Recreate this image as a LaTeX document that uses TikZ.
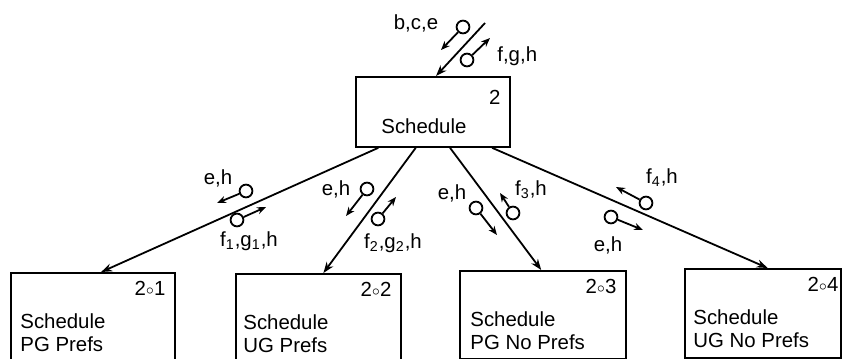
\documentclass[tikz,border=0pt]{standalone}
\usepackage{fontspec}
\setmainfont{Liberation Sans}
\usepackage{tikz}
\usetikzlibrary{arrows.meta,positioning,calc}
\newcommand{\sub}{\raisebox{0.7pt}{$\scriptstyle\circ$}}

\begin{document}
\begin{tikzpicture}[
  x=0.5pt, y=-0.5pt,
  every node/.style={font=\fontsize{10.2}{11.5}\selectfont},
  procbox/.style={rectangle, draw, line width=0.9pt, inner sep=0pt,
    anchor=north west, minimum height=44pt},
  boxtext/.style={inner sep=0pt, align=left, anchor=north west},
  boxnum/.style={inner sep=0pt, anchor=north east},
  flowdot/.style={circle, draw, line width=0.9pt, inner sep=0pt,
    minimum size=6.4pt},
  flowarrow/.style={-{Stealth[length=4.5pt, width=3.6pt]}, line width=0.9pt},
  link/.style={-{Stealth[length=5.5pt, width=4pt]}, line width=0.9pt},
  flowlabel/.style={inner sep=0pt}
]
  \useasboundingbox (0,0) rectangle (842,359);

  % Parent process
  \node[procbox, minimum width=77pt, minimum height=35pt] (sched) at (355,76) {};
  \node[boxnum] (schednum) at ($(sched.north east)+(-10,14)$) {2};
  \node[boxtext] (schedtxt) at ($(sched.north west)+(26,42)$) {Schedule};

  % Child processes (the first two run off the page)
  \node[procbox, minimum width=82pt, minimum height=50pt] (pgp) at (10,272) {};
  \node[procbox, minimum width=82.5pt, minimum height=50pt] (ugp) at (235,273) {};
  \node[procbox, minimum width=83pt] (pgn) at (459,270) {};
  \node[procbox, minimum width=78pt, minimum height=44.5pt] (ugn) at (684,268) {};

  \node[boxnum] (pgpnum) at ($(pgp.north east)+(-10,9)$) {2\sub1};
  \node[boxnum] (ugpnum) at ($(ugp.north east)+(-10,9)$) {2\sub2};
  \node[boxnum] (pgnnum) at ($(pgn.north east)+(-10,9)$) {2\sub3};
  \node[boxnum] (ugnnum) at ($(ugn.north east)+(-3,9)$) {2\sub4};

  \node[boxtext] (pgptxt) at ($(pgp.north west)+(10,41)$) {Schedule\\PG Prefs};
  \node[boxtext] (ugptxt) at ($(ugp.north west)+(8,41)$) {Schedule\\UG Prefs};
  \node[boxtext] (pgntxt) at ($(pgn.north west)+(11,41)$) {Schedule\\PG No Prefs};
  \node[boxtext] (ugntxt) at ($(ugn.north west)+(9,41)$) {Schedule\\UG No Prefs};

  % Connectors
  \coordinate (src) at (485,23);
  \draw[link] (src) -- ($(sched.north west)!0.52!(sched.north east)$);
  \draw[link] ($(sched.south west)!0.15!(sched.south east)$) -- ($(pgp.north west)!0.55!(pgp.north east)$);
  \draw[link] ($(sched.south west)!0.39!(sched.south east)$) -- ($(ugp.north west)!0.53!(ugp.north east)$);
  \draw[link] ($(sched.south west)!0.61!(sched.south east)$) -- ($(pgn.north west)!0.49!(pgn.north east)$);
  \draw[link] ($(sched.south west)!0.88!(sched.south east)$) -- ($(ugn.north west)!0.53!(ugn.north east)$);

  % Data couples
  \foreach \cx/\cy/\tx/\ty [count=\i] in {
      463/27/441/50, 467/60/490/38,
      246/191/217/203, 237/220/266/207,
      367/189/346/216, 378/219/396/197,
      476/208/497/235, 513/213/500/193,
      646/203/616/187, 611/217/643/230} {
    \node[flowdot] (dot\i) at (\cx,\cy) {};
    \coordinate (tip\i) at (\tx,\ty);
    \draw[flowarrow] (dot\i) -- (tip\i);
  }

  \node[flowlabel] (lbce) at (416,23) {b,c,e};
  \node[flowlabel, anchor=west] (lfgh) at (497,56) {f,g,h};
  \node[flowlabel] (leh1) at (218,178) {e,h};
  \node[flowlabel] (lfg1) at (249,241) {f\textsubscript{1},g\textsubscript{1},h};
  \node[flowlabel] (leh2) at (336,189) {e,h};
  \node[flowlabel] (lfg2) at (393,243) {f\textsubscript{2},g\textsubscript{2},h};
  \node[flowlabel] (leh3) at (452,193) {e,h};
  \node[flowlabel] (lf3) at (531,190) {f\textsubscript{3},h};
  \node[flowlabel] (lf4) at (662,178) {f\textsubscript{4},h};
  \node[flowlabel] (leh4) at (608,245) {e,h};
\end{tikzpicture}
\end{document}
